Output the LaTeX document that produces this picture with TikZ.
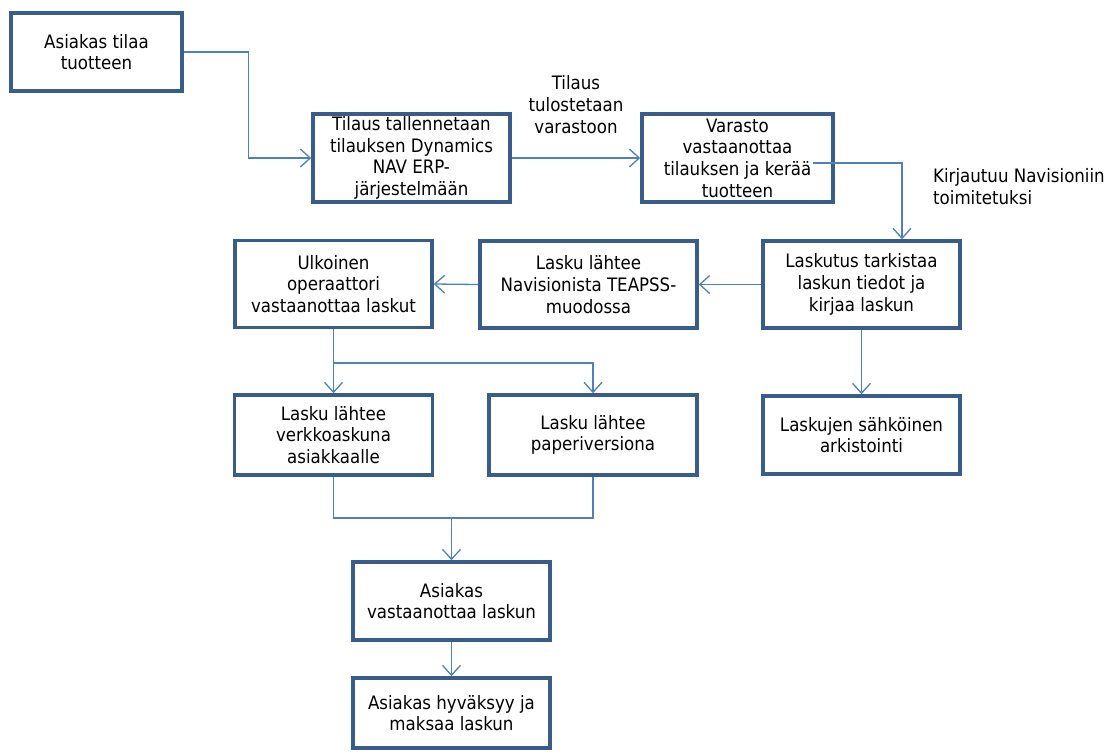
\documentclass[tikz,border=0pt]{standalone}
\usepackage{fontspec}
\setmainfont{DejaVu Sans Condensed}
\usetikzlibrary{arrows.meta}
\definecolor{boxborder}{HTML}{385D8A}
\definecolor{connblue}{HTML}{4F81BD}
\tikzset{
  stepbox/.style={draw=boxborder, line width=3.5pt, fill=white, align=center,
    inner sep=0pt, font=\fontsize{18.5}{21.7}\selectfont, text=black},
  conn/.style={draw=connblue, line width=1.3pt},
  arr/.style={conn, -{Straight Barb[length=10pt,width=18pt,line width=1.3pt]}},
  lbl/.style={font=\fontsize{18.5}{21.7}\selectfont, text=black, inner sep=0pt}
}
\begin{document}
\begin{tikzpicture}[x=1pt,y=-1pt]
\useasboundingbox[fill=white] (0,0) rectangle (1112,753);

\node[stepbox, minimum width=171pt, minimum height=78pt] (B1) at (96.5,52) {Asiakas tilaa\\tuotteen};
\node[stepbox, minimum width=197pt, minimum height=88pt] (B2) at (411.5,158) {Tilaus tallennetaan\\tilauksen Dynamics\\NAV ERP-\\järjestelmään};
\node[stepbox, minimum width=191pt, minimum height=88pt] (B3) at (737.5,158) {Varasto\\vastaanottaa\\tilauksen ja kerää\\tuotteen};
\node[stepbox, minimum width=197pt, minimum height=87pt] (B4) at (861.5,284.5) {Laskutus tarkistaa\\laskun tiedot ja\\kirjaa laskun};
\node[stepbox, minimum width=217pt, minimum height=87pt] (B5) at (588.5,284.5) {Lasku lähtee\\Navisionista TEAPSS-\\muodossa};
\node[stepbox, minimum width=197pt, minimum height=87pt] (B6) at (333.5,284) {Ulkoinen\\operaattori\\vastaanottaa laskut};
\node[stepbox, minimum width=198pt, minimum height=80pt] (B7) at (333.5,435) {Lasku lähtee\\verkkoaskuna\\asiakkaalle};
\node[stepbox, minimum width=208pt, minimum height=80pt] (B8) at (593,435) {Lasku lähtee\\paperiversiona};
\node[stepbox, minimum width=197pt, minimum height=78pt] (B9) at (861.5,435) {Laskujen sähköinen\\arkistointi};
\node[stepbox, minimum width=197pt, minimum height=78pt] (B10) at (451.5,601) {Asiakas\\vastaanottaa laskun};
\node[stepbox, minimum width=197pt, minimum height=70pt] (B11) at (451.5,713) {Asiakas hyväksyy ja\\maksaa laskun};

\node[lbl, align=center] (L1) at (576,104.5) {Tilaus\\tulostetaan\\varastoon};
\node[lbl, align=left, anchor=west] (L2) at (933,186.5) {Kirjautuu Navisioniin\\toimitetuksi};

\coordinate (c3) at (813,163);
\coordinate (j1) at (333.5,363);
\coordinate (j2) at (451.5,518);

\draw[arr] (B1.east) -- ++(65,0) |- (B2.west);
\draw[arr] (B2.east) -- (B3.west);
\draw[arr] (c3) -| ([xshift=40.5pt]B4.north);
\draw[arr] (B4.west) -- (B5.east);
\draw[arr] (B5.west) -- (B6.east);
\draw[arr] (B4.south) -- (B9.north);
\draw[arr] (B6.south) -- (j1) -- (B7.north);
\draw[arr] (j1) -| (B8.north);
\draw[conn] (B7.south) |- (j2 -| B8.south) -- (B8.south);
\draw[arr] (j2) -- (B10.north);
\draw[arr] (B10.south) -- (B11.north);
\end{tikzpicture}
\end{document}
